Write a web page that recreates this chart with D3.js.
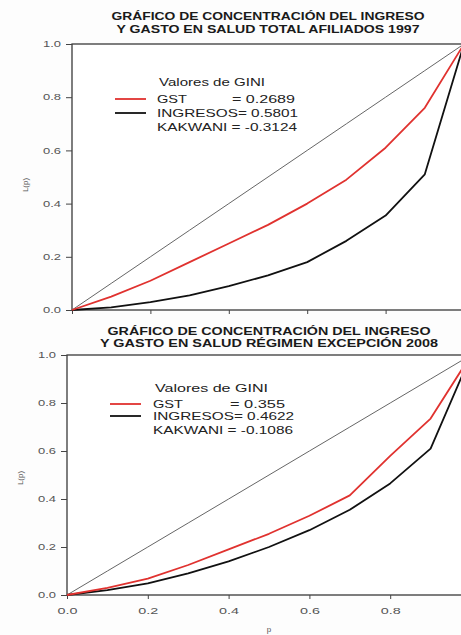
<!DOCTYPE html>
<html>
<head>
<meta charset="utf-8">
<script src="https://cdn.jsdelivr.net/npm/d3@7"></script>
<style>
  html, body { margin: 0; padding: 0; background: #fdfdfd; }
  svg { display: block; }
</style>
</head>
<body>
<svg id="chart" width="461" height="635"></svg>
<script>
// proporción acumulada de población (deciles)
const p = [0, 0.1, 0.2, 0.3, 0.4, 0.5, 0.6, 0.7, 0.8, 0.9, 1.0];

// 1997 - total afiliados
const gst1997      = [0, 0.05, 0.11, 0.18, 0.25, 0.32, 0.40, 0.49, 0.61, 0.76, 1.0];
const ingresos1997 = [0, 0.01, 0.03, 0.055, 0.09, 0.13, 0.18, 0.26, 0.355, 0.51, 1.0];

// 2008 - régimen de excepción
const gst2008      = [0, 0.03, 0.068, 0.125, 0.19, 0.255, 0.33, 0.415, 0.58, 0.735, 1.0];
const ingresos2008 = [0, 0.02, 0.048, 0.09, 0.14, 0.20, 0.27, 0.355, 0.465, 0.61, 1.0];

const ticks = [0, 0.2, 0.4, 0.6, 0.8, 1.0];

const titulos1997 = ["GRÁFICO DE CONCENTRACIÓN DEL INGRESO", "Y GASTO EN SALUD TOTAL AFILIADOS 1997"];
const titulos2008 = ["GRÁFICO DE CONCENTRACIÓN DEL INGRESO", "Y GASTO EN SALUD RÉGIMEN EXCEPCIÓN 2008"];

const gini1997 = { gst: "= 0.2689", ing: "INGRESOS= 0.5801", kak: "KAKWANI = -0.3124" };
const gini2008 = { gst: "= 0.355",  ing: "INGRESOS= 0.4622", kak: "KAKWANI = -0.1086" };

const svg = d3.select("#chart");
const FONT = "'Liberation Sans', Arial, sans-serif";

// texto con ancho forzado (la imagen original está algo estirada)
function texto(g, x, y, s, opts) {
  const t = g.append("text")
    .attr("x", x).attr("y", y)
    .attr("font-family", FONT)
    .attr("font-size", opts.size)
    .attr("font-weight", opts.bold ? "bold" : "normal")
    .attr("fill", opts.color || "#222")
    .attr("text-anchor", opts.anchor || "start")
    .text(s);
  if (opts.width) t.attr("textLength", opts.width).attr("lengthAdjust", "spacingAndGlyphs");
  return t;
}

function panel(cfg) {
  const g = svg.append("g");
  const x = d3.scaleLinear().domain([0, 1]).range([cfg.x0, cfg.x1]);
  const y = d3.scaleLinear().domain([0, 1]).range([cfg.yBot, cfg.yTop]);

  // títulos
  texto(g, cfg.tx, cfg.ty1, cfg.titulos[0], { size: 11.5, bold: true, anchor: "middle", width: cfg.tw1, color: "#1a1a1a" });
  texto(g, cfg.tx, cfg.ty2, cfg.titulos[1], { size: 11.5, bold: true, anchor: "middle", width: cfg.tw2, color: "#1a1a1a" });

  // marco
  g.append("rect")
    .attr("x", cfg.x0).attr("y", cfg.yTop)
    .attr("width", cfg.x1 - cfg.x0).attr("height", cfg.yBot - cfg.yTop)
    .attr("fill", "#ffffff").attr("stroke", "#3a3a3a").attr("stroke-width", 1.3);

  // eje y
  const ay = g.append("g").attr("transform", `translate(${cfg.x0},0)`)
    .call(d3.axisLeft(y).tickValues(ticks).tickFormat(d3.format(".1f")).tickSize(6).tickPadding(5));
  ay.select(".domain").remove();
  ay.selectAll("line").attr("stroke", "#444").attr("stroke-width", 1);
  ay.selectAll("text").attr("font-family", FONT).attr("font-size", 8.5).attr("fill", "#555")
    .attr("textLength", 18).attr("lengthAdjust", "spacingAndGlyphs");

  // eje x
  const ax = g.append("g").attr("transform", `translate(0,${cfg.yBot})`)
    .call(d3.axisBottom(x).tickValues(ticks.slice(0, 5)).tickFormat(d3.format(".1f")).tickSize(4).tickPadding(9));
  ax.select(".domain").remove();
  ax.selectAll("line").attr("stroke", "#444").attr("stroke-width", 1);
  ax.selectAll("text").attr("font-family", FONT).attr("font-size", 8.5).attr("fill", "#555")
    .attr("textLength", 20).attr("lengthAdjust", "spacingAndGlyphs");
  if (!cfg.xLabels) ax.selectAll("text").remove();

  // etiqueta eje y
  g.append("text")
    .attr("transform", `translate(${cfg.lx},${cfg.ly}) rotate(-90)`)
    .attr("text-anchor", "middle")
    .attr("font-family", FONT).attr("font-size", 8).attr("fill", "#555")
    .text("L(p)");

  if (cfg.xLabels) {
    g.append("text").attr("x", x(0.5)).attr("y", cfg.yBot + 37)
      .attr("text-anchor", "middle")
      .attr("font-family", FONT).attr("font-size", 8).attr("fill", "#555")
      .text("p");
  }

  const linea = d3.line().x((d, i) => x(p[i])).y(d => y(d));

  // línea de igualdad
  g.append("path").datum(p).attr("d", linea).attr("fill", "none")
    .attr("stroke", "#666").attr("stroke-width", 1);
  g.append("path").datum(cfg.ingresos).attr("d", linea).attr("fill", "none")
    .attr("stroke", "#111").attr("stroke-width", 1.8).attr("stroke-linejoin", "round");
  g.append("path").datum(cfg.gst).attr("d", linea).attr("fill", "none")
    .attr("stroke", "#e0322f").attr("stroke-width", 1.8).attr("stroke-linejoin", "round");

  // leyenda
  const L = cfg.leg;
  texto(g, L.tx + 2, L.y0 + 4, "Valores de GINI", { size: 11.5, width: L.w0 });
  g.append("line").attr("x1", L.lx0).attr("x2", L.lx1).attr("y1", L.y1).attr("y2", L.y1)
    .attr("stroke", "#e0322f").attr("stroke-width", 1.8);
  g.append("line").attr("x1", L.lx0).attr("x2", L.lx1).attr("y1", L.y2).attr("y2", L.y2)
    .attr("stroke", "#111").attr("stroke-width", 1.8);
  texto(g, L.tx, L.y1 + 4, "GST", { size: 11.5, width: 30 });
  texto(g, L.ex, L.y1 + 4, cfg.gini.gst, { size: 11.5, width: L.ew });
  texto(g, L.tx, L.y2 + 4, cfg.gini.ing, { size: 11.5, width: 141 });
  texto(g, L.tx, L.y3 + 4, cfg.gini.kak, { size: 11.5, width: 140 });
}

panel({
  x0: 72, x1: 464, yTop: 44, yBot: 310,
  tx: 268, ty1: 20, ty2: 33, tw1: 313, tw2: 303,
  titulos: titulos1997, lx: 28, ly: 185, xLabels: false,
  gst: gst1997, ingresos: ingresos1997, gini: gini1997,
  leg: { tx: 157, y0: 82, y1: 99, y2: 113, y3: 127, lx0: 115, lx1: 146, ex: 232, ew: 63, w0: 106 }
});

panel({
  x0: 67, x1: 471, yTop: 355, yBot: 595,
  tx: 269, ty1: 335, ty2: 347, tw1: 323, tw2: 338,
  titulos: titulos2008, lx: 23, ly: 478, xLabels: true,
  gst: gst2008, ingresos: ingresos2008, gini: gini2008,
  leg: { tx: 153, y0: 388, y1: 404, y2: 416, y3: 430, lx0: 110, lx1: 141, ex: 230, ew: 55, w0: 113 }
});
</script>
</body>
</html>
